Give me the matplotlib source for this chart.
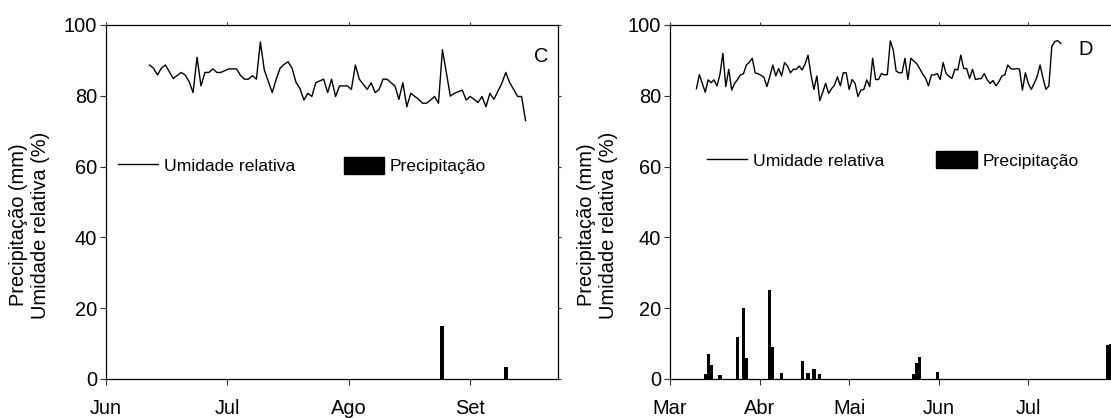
import numpy as np
import matplotlib
matplotlib.use("Agg")
import matplotlib.pyplot as plt
from matplotlib.lines import Line2D
from matplotlib.patches import Patch

plt.rcParams['font.family'] = ['Liberation Sans', 'DejaVu Sans']

# ---------------- Panel C (Jun - Set) ----------------
c_month_labels = ["Jun", "Jul", "Ago", "Set"]
c_month_pos = [0, 30.67, 61.33, 92]          # day positions of month starts (equal spacing as in source)
c_xlim = (0, 114.2)

c_rh_days = [0, 1, 2, 3, 4, 5, 6, 8, 9, 10, 11, 12, 13, 14, 15, 16, 17, 18, 20, 22,
             23, 24, 25, 26, 27, 28, 29, 31, 32, 33, 34, 35, 36, 37, 38, 39, 40, 41, 42, 44,
             45, 46, 47, 48, 50, 51, 52, 53, 55, 56, 57, 58, 59, 60, 61, 62, 63, 64, 65, 66,
             68, 69, 70, 71, 72, 73, 74, 75, 76, 77, 79, 80, 81, 82, 83, 84, 85, 86, 87, 89,
             90, 91, 92, 93, 94, 95]
c_rh_start = 11
c_rh_vals = [88.7, 87.8, 85.9, 87.8, 88.7, 86.8, 84.9, 86.6, 85.9, 84.0,
             80.9, 90.9, 82.8, 86.6, 86.6, 87.6, 86.6, 86.6, 87.6, 87.6,
             85.7, 84.7, 84.7, 85.7, 84.7, 95.2, 87.3, 80.9, 84.7, 87.8,
             88.9, 89.6, 87.8, 83.8, 82.1, 78.8, 80.7, 79.8, 83.7, 84.7,
             80.9, 84.7, 79.8, 82.8, 82.8, 81.8, 88.7, 84.7, 81.8, 83.7,
             80.9, 81.8, 84.7, 84.7, 83.7, 82.8, 79.0, 83.7, 76.9, 80.7,
             79.0, 77.9, 77.9, 78.8, 79.8, 77.9, 93.0, 86.5, 79.9, 80.7,
             81.6, 78.8, 79.8, 79.0, 78.1, 79.8, 76.9, 80.7, 79.0, 83.5,
             86.6, 83.7, 81.8, 79.8, 79.8, 73.0]
c_prec_days = [85, 101]
c_prec_vals = [15.0, 3.3]

# ---------------- Panel D (Mar - Jul) ----------------
d_month_labels = ["Mar", "Abr", "Mai", "Jun", "Jul"]
d_month_pos = [0, 30.5, 61, 91.5, 122]
d_xlim = (0, 152)

d_rh_start = 9
d_rh_vals = [82.0, 86.0, 83.5, 81.0, 84.5, 83.7, 84.5, 82.8, 86.0, 92.0,
             82.6, 87.5, 81.6, 83.5, 84.6, 85.9, 86.2, 88.7, 89.5, 90.6,
             86.5, 86.2, 85.8, 85.2, 82.6, 85.5, 88.7, 85.6, 87.7, 85.6,
             89.4, 88.4, 86.5, 87.5, 87.5, 88.4, 87.3, 89.0, 91.5, 85.9,
             81.8, 85.6, 78.6, 81.0, 83.5, 80.7, 82.0, 83.0, 85.4, 82.8,
             86.5, 86.5, 81.8, 84.6, 83.5, 79.8, 81.6, 81.8, 84.5, 82.6,
             90.6, 84.6, 84.6, 86.3, 85.9, 86.0, 95.5, 93.0, 87.0, 86.5,
             86.5, 90.6, 84.6, 90.6, 89.8, 89.1, 87.7, 86.2, 85.0, 82.8,
             85.9, 85.9, 86.3, 84.6, 89.4, 86.3, 85.5, 84.9, 87.5, 87.3,
             91.5, 87.7, 87.7, 84.9, 87.5, 84.6, 84.8, 84.9, 86.3, 84.5,
             83.5, 84.3, 82.8, 84.0, 85.6, 85.9, 88.7, 87.7, 87.5, 87.7,
             87.5, 81.6, 86.5, 83.5, 81.8, 83.5, 85.4, 88.7, 85.0, 81.8,
             82.8, 94.0, 95.3, 95.6, 94.8]
d_prec_days = [12, 13, 14, 17, 23, 25, 26, 34, 35, 38, 45, 47, 49, 51, 83, 84, 85, 91, 149, 150]
d_prec_vals = [1.4, 7.1, 4.0, 1.1, 11.8, 20.0, 5.8, 25.1, 8.9, 1.6, 5.2, 1.6, 2.9, 1.4,
               1.4, 4.6, 6.3, 1.9, 9.6, 10.0]

yticks = [0, 20, 40, 60, 80, 100]
ylabel_text = "Precipitação (mm)\nUmidade relativa (%)"
legend_labels = ["Umidade relativa", "Precipitação"]

W, H = 1111, 418
fig = plt.figure(figsize=(W / 100, H / 100), dpi=100)

FS = 14.4
LFS = 12.6


def px_axes(x0, x1, ytop, ybot):
    return [x0 / W, (H - ybot) / H, (x1 - x0) / W, (ybot - ytop) / H]


axC = fig.add_axes(px_axes(106, 558, 25, 379))
axD = fig.add_axes(px_axes(670, 670 + 152 * 2.937, 25, 379))


def style(ax, xlim, mpos, mlab):
    ax.set_xlim(*xlim)
    ax.set_ylim(0, 100)
    ax.set_yticks(yticks)
    ax.set_xticks(mpos)
    ax.set_xticklabels(mlab)
    ax.tick_params(axis='both', which='major', direction='out', length=4.3,
                   width=0.8, labelsize=FS, color='#333333')
    ax.tick_params(axis='x', pad=10)
    ax.tick_params(axis='y', pad=2)
    ax.tick_params(top=True, right=True, which='major')
    for sp in ax.spines.values():
        sp.set_linewidth(0.9)
        sp.set_color('black')


style(axC, c_xlim, c_month_pos, c_month_labels)
style(axD, d_xlim, d_month_pos, d_month_labels)
for ax in (axC, axD):
    # secondary ticks on top/right are short marks
    for t in ax.xaxis.get_major_ticks():
        t.tick2line.set_markersize(2.5)
    for t in ax.yaxis.get_major_ticks():
        t.tick2line.set_markersize(2.5)

c_x = np.array(c_rh_days) + c_rh_start
axC.plot(c_x, c_rh_vals, color='black', lw=1.0, zorder=3)
axC.bar(c_prec_days, c_prec_vals, width=1.0, color='black', zorder=2)

d_x = np.arange(len(d_rh_vals)) + d_rh_start
axD.plot(d_x, d_rh_vals, color='black', lw=1.0, zorder=3)
axD.bar(d_prec_days, d_prec_vals, width=1.1, color='black', zorder=2)

# panel letters
fig.text(541.5 / W, 1 - 57 / H, "C", fontsize=FS, ha='center', va='center')
fig.text(1085.5 / W, 1 - 49.5 / H, "D", fontsize=FS, ha='center', va='center')

# y labels
fig.text(30 / W, 1 - 225 / H, ylabel_text, rotation=90, fontsize=FS,
         ha='center', va='center', multialignment='center', linespacing=1.2)
fig.text(598 / W, 1 - 225 / H, ylabel_text, rotation=90, fontsize=FS,
         ha='center', va='center', multialignment='center', linespacing=1.2)

handles = [Line2D([], [], color='black', lw=1.0),
           Patch(facecolor='black', edgecolor='black')]

fig.legend(handles, legend_labels, loc='center left',
           bbox_to_anchor=(118 / W, 1 - 165.5 / H), ncol=2, frameon=False,
           fontsize=LFS, handlelength=2.29, handleheight=1.1, handletextpad=0.34,
           columnspacing=2.76, borderpad=0, borderaxespad=0)
fig.legend(handles, legend_labels, loc='center left',
           bbox_to_anchor=(707 / W, 1 - 160 / H), ncol=2, frameon=False,
           fontsize=LFS, handlelength=2.29, handleheight=1.1, handletextpad=0.34,
           columnspacing=2.98, borderpad=0, borderaxespad=0)

fig.savefig("out.png", dpi=100)
